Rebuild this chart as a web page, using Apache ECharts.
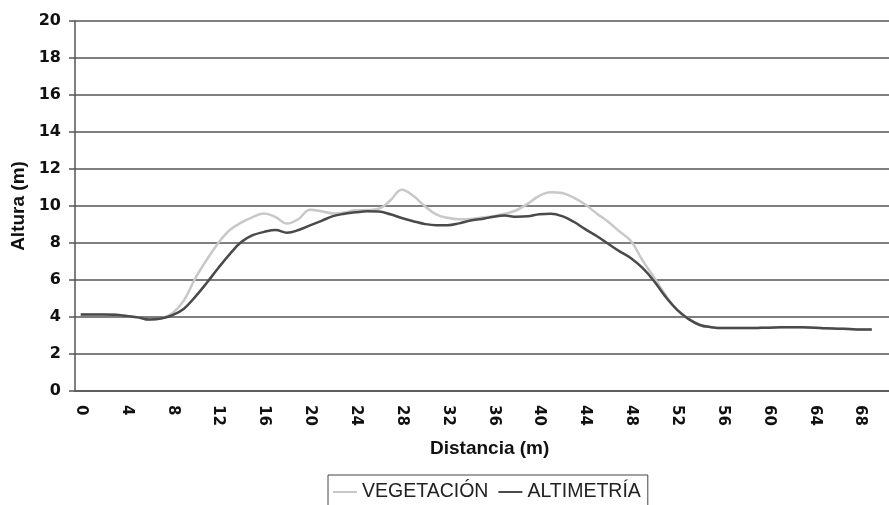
<!DOCTYPE html>
<html>
<head>
<meta charset="utf-8">
<script src="https://cdn.jsdelivr.net/npm/echarts@6/dist/echarts.min.js"></script>
<style>html,body{margin:0;padding:0;background:#fff;}#c{width:889px;height:505px;}</style>
</head>
<body>
<div id="c"></div>
<script>
// Distance categories (m)
const distances = [];
for (let i = 0; i <= 70; i++) distances.push(String(i));

const vegetacion = [4.13,4.13,4.13,4.12,4.05,3.98,3.86,3.92,4.2,4.9,
  6.1,7.1,8.0,8.7,9.1,9.4,9.6,9.4,9.05,9.3,
  9.8,9.72,9.6,9.65,9.77,9.78,9.85,10.3,10.88,10.55,
  10.0,9.55,9.36,9.28,9.3,9.38,9.45,9.58,9.77,10.13,
  10.55,10.75,10.7,10.45,10.08,9.6,9.15,8.62,8.1,7.06,
  6.15,5.2,4.4,3.9,3.57,3.45,3.4,3.4,3.4,3.41,
  3.42,3.44,3.45,3.44,3.42,3.39,3.37,3.35,3.33,3.32];

const altimetria = [4.13,4.13,4.13,4.12,4.05,3.98,3.86,3.92,4.1,4.45,
  5.1,5.85,6.65,7.4,8.05,8.42,8.6,8.7,8.56,8.7,
  8.95,9.2,9.45,9.58,9.66,9.71,9.7,9.55,9.35,9.18,
  9.03,8.96,8.96,9.06,9.22,9.3,9.42,9.48,9.42,9.44,
  9.56,9.58,9.45,9.15,8.75,8.38,7.96,7.55,7.18,6.65,
  5.95,5.1,4.4,3.9,3.57,3.45,3.4,3.4,3.4,3.41,
  3.42,3.44,3.45,3.44,3.42,3.39,3.37,3.35,3.33,3.32];

const yTicks = {min: 0, max: 20, interval: 2};
const seriesNames = ['VEGETACIÓN', 'ALTIMETRÍA'];
const xTitle = 'Distancia (m)';
const yTitle = 'Altura (m)';

const FONT = '"Liberation Sans", Arial, sans-serif';
const TICKFONT = '"DejaVu Sans", sans-serif';
const chart = echarts.init(document.getElementById('c'), null, {renderer: 'canvas'});
chart.setOption({
  animation: false,
  backgroundColor: '#fff',
  grid: {left: 75, top: 21, width: 816, height: 370, containLabel: false},
  xAxis: {
    type: 'category',
    data: distances,
    boundaryGap: true,
    axisLine: {lineStyle: {color: '#555', width: 1.5}},
    axisTick: {interval: 3, length: 6, lineStyle: {color: '#555', width: 1.5}},
    axisLabel: {interval: 3, rotate: -90, margin: 14, color: '#111', fontWeight: 'bold', fontSize: 15, fontFamily: TICKFONT},
    splitLine: {show: false}
  },
  yAxis: {
    type: 'value',
    min: yTicks.min, max: yTicks.max, interval: yTicks.interval,
    name: yTitle, nameLocation: 'middle', nameGap: 46, nameRotate: 90,
    nameTextStyle: {color: '#111', fontWeight: 'bold', fontSize: 19, fontFamily: FONT},
    axisLine: {show: true, lineStyle: {color: '#555', width: 1.5}},
    axisTick: {show: true, length: 6, lineStyle: {color: '#555', width: 1.5}},
    axisLabel: {margin: 14, color: '#111', fontWeight: 'bold', fontSize: 16, fontFamily: TICKFONT},
    splitLine: {show: true, lineStyle: {color: '#555', width: 1.5}}
  },
  legend: {
    left: 328, top: 475,
    data: seriesNames,
    icon: 'rect', itemWidth: 24, itemHeight: 2, itemGap: 10,
    padding: [7, 7, 8, 5],
    borderColor: '#444', borderWidth: 1,
    textStyle: {color: '#222', fontSize: 19.5, fontFamily: FONT}
  },
  graphic: [{
    type: 'text', left: 430, top: 439,
    style: {text: xTitle, fill: '#111', font: 'bold 19px ' + FONT}
  }],
  series: [
    {name: seriesNames[0], type: 'line', data: vegetacion, smooth: 0.4, showSymbol: false,
     lineStyle: {color: '#c8c8c8', width: 2.5}, itemStyle: {color: '#c8c8c8'}, z: 2},
    {name: seriesNames[1], type: 'line', data: altimetria, smooth: 0.4, showSymbol: false,
     lineStyle: {color: '#4a4a4a', width: 2.5}, itemStyle: {color: '#4a4a4a'}, z: 3}
  ]
});
</script>
</body>
</html>
